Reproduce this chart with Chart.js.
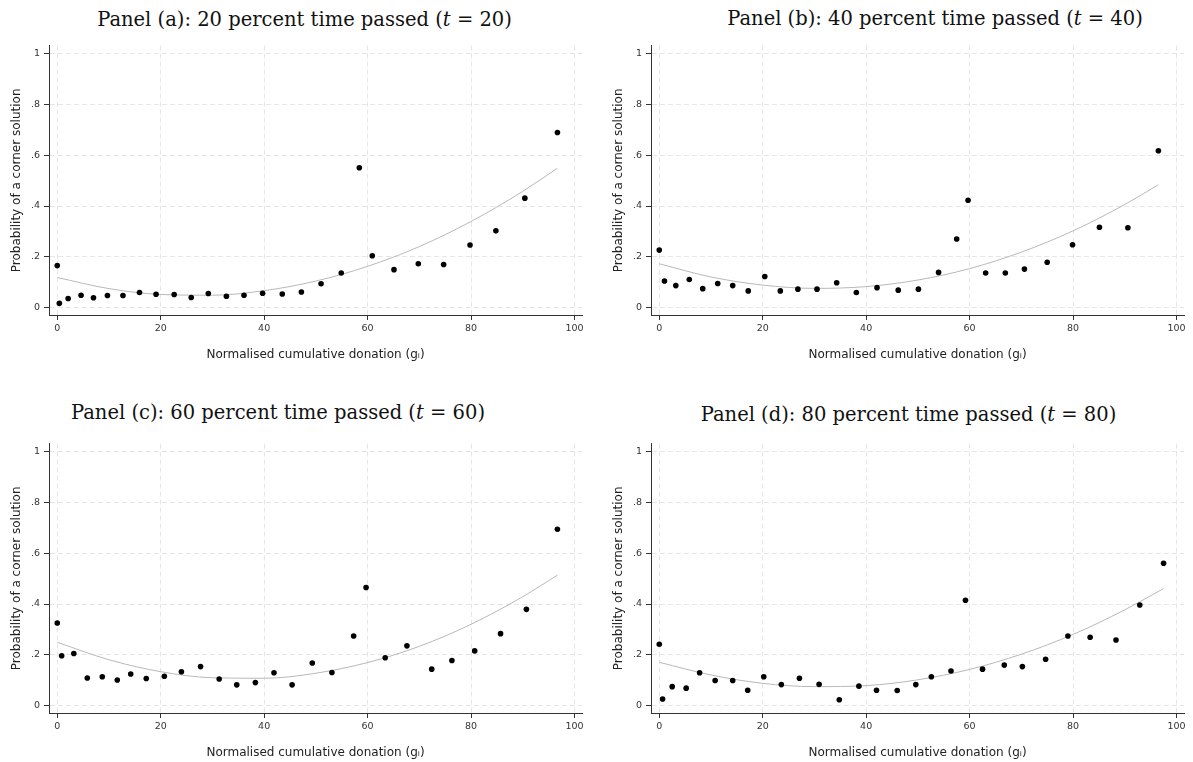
<!DOCTYPE html>
<html>
<head>
<meta charset="utf-8">
<script src="https://cdn.jsdelivr.net/npm/chart.js@4.4.1/dist/chart.umd.min.js"></script>
<style>
  html, body { margin: 0; padding: 0; background: #fff; overflow: hidden; }
  body { width: 1193px; height: 762px; position: relative; }
  canvas { position: absolute; }
  .ptitle {
    position: absolute;
    font-family: "DejaVu Serif", serif;
    font-size: 19.5px;
    line-height: 1;
    white-space: nowrap;
    color: #111;
    transform: translateX(-50%);
  }
</style>
</head>
<body>
<div class="ptitle" style="left:304.5px; top:9.5px">Panel (a): 20 percent time passed (<i>t</i> = 20)</div>
<div class="ptitle" style="left:935px; top:9px">Panel (b): 40 percent time passed (<i>t</i> = 40)</div>
<div class="ptitle" style="left:278px; top:402.5px">Panel (c): 60 percent time passed (<i>t</i> = 60)</div>
<div class="ptitle" style="left:908.5px; top:404.5px">Panel (d): 80 percent time passed (<i>t</i> = 80)</div>

<canvas id="chartA" width="596" height="334" style="left:0px; top:36px"></canvas>
<canvas id="chartB" width="591" height="334" style="left:602px; top:36px"></canvas>
<canvas id="chartC" width="596" height="334" style="left:0px; top:434px"></canvas>
<canvas id="chartD" width="591" height="334" style="left:602px; top:434px"></canvas>

<script>
// axis ticks
const xTickVals = [0, 20, 40, 60, 80, 100];
const yTickVals = [0, 0.2, 0.4, 0.6, 0.8, 1];
const yTickLabels = ['0', '.2', '.4', '.6', '.8', '1'];

// Panel (a): t = 20
const aX = [0, 0.4, 2.1, 4.6, 7.0, 9.7, 12.7, 15.9, 19.1, 22.6, 25.9, 29.2, 32.7, 36.1, 39.7, 43.5, 47.2, 51.0, 54.9, 58.4, 60.9, 65.1, 69.8, 74.7, 79.8, 84.8, 90.4, 96.7];
const aY = [0.165, 0.016, 0.035, 0.048, 0.038, 0.047, 0.047, 0.059, 0.052, 0.051, 0.039, 0.055, 0.044, 0.048, 0.056, 0.053, 0.061, 0.093, 0.136, 0.551, 0.204, 0.149, 0.172, 0.169, 0.246, 0.302, 0.431, 0.690];
const aFitX = [0, 10, 20, 30, 40, 50, 60, 70, 80, 90, 96.7];
const aFitY = [0.118, 0.074, 0.051, 0.048, 0.066, 0.104, 0.162, 0.240, 0.339, 0.458, 0.549];

// Panel (b): t = 40
const bX = [0, 1.0, 3.2, 5.8, 8.4, 11.3, 14.2, 17.2, 20.4, 23.4, 26.8, 30.5, 34.3, 38.1, 42.1, 46.2, 50.1, 54.0, 57.5, 59.7, 63.1, 66.9, 70.6, 75.0, 79.9, 85.1, 90.6, 96.5];
const bY = [0.226, 0.104, 0.086, 0.110, 0.074, 0.094, 0.086, 0.065, 0.122, 0.065, 0.072, 0.072, 0.097, 0.059, 0.078, 0.068, 0.072, 0.138, 0.270, 0.423, 0.136, 0.136, 0.151, 0.178, 0.247, 0.316, 0.314, 0.618];
const bFitX = [0, 10, 20, 30, 40, 50, 60, 70, 80, 90, 96.5];
const bFitY = [0.172, 0.120, 0.088, 0.075, 0.082, 0.108, 0.153, 0.218, 0.302, 0.406, 0.484];

// Panel (c): t = 60
const cX = [0, 0.85, 3.2, 5.8, 8.7, 11.6, 14.2, 17.2, 20.7, 24.0, 27.7, 31.3, 34.7, 38.3, 41.9, 45.4, 49.3, 53.1, 57.3, 59.7, 63.4, 67.6, 72.4, 76.3, 80.7, 85.7, 90.7, 96.7];
const cY = [0.325, 0.196, 0.205, 0.108, 0.113, 0.100, 0.124, 0.106, 0.115, 0.133, 0.153, 0.104, 0.081, 0.090, 0.129, 0.081, 0.167, 0.130, 0.274, 0.465, 0.188, 0.235, 0.143, 0.177, 0.215, 0.283, 0.379, 0.695];
const cFitX = [0, 10, 20, 30, 40, 50, 60, 70, 80, 90, 96.7];
const cFitY = [0.249, 0.180, 0.133, 0.109, 0.107, 0.127, 0.169, 0.233, 0.320, 0.429, 0.514];

// Panel (d): t = 80
const dX = [0, 0.64, 2.5, 5.2, 7.8, 10.8, 14.2, 17.1, 20.2, 23.6, 27.1, 30.9, 34.8, 38.6, 42.0, 46.0, 49.6, 52.6, 56.4, 59.2, 62.5, 66.7, 70.2, 74.7, 79.0, 83.3, 88.3, 92.9, 97.5];
const dY = [0.241, 0.025, 0.074, 0.068, 0.129, 0.098, 0.098, 0.060, 0.113, 0.082, 0.107, 0.083, 0.022, 0.076, 0.060, 0.059, 0.082, 0.113, 0.136, 0.415, 0.143, 0.159, 0.153, 0.182, 0.274, 0.269, 0.258, 0.396, 0.561];
const dFitX = [0, 10, 20, 30, 40, 50, 60, 70, 80, 90, 97.5];
const dFitY = [0.170, 0.120, 0.087, 0.074, 0.078, 0.101, 0.142, 0.202, 0.280, 0.377, 0.461];

const axisColor = '#333';
const gridColor = '#e6e6e6';

function toPoints(xs, ys) {
    return xs.map((x, i) => ({ x: x, y: ys[i] }));
}

function makePanel(canvasId, xs, ys, fitXs, fitYs, rightPad) {
    const ctx = document.getElementById(canvasId).getContext('2d');
    return new Chart(ctx, {
        type: 'scatter',
        data: {
            datasets: [
                {
                    label: 'Share',
                    data: toPoints(xs, ys),
                    pointRadius: 2.8,
                    pointBackgroundColor: '#000',
                    pointBorderWidth: 0,
                    showLine: false
                },
                {
                    label: 'Quadratic fit',
                    data: toPoints(fitXs, fitYs),
                    showLine: true,
                    borderColor: '#b8b8b8',
                    borderWidth: 1,
                    pointRadius: 0,
                    cubicInterpolationMode: 'monotone'
                }
            ]
        },
        options: {
            responsive: false,
            animation: false,
            layout: {
                padding: { top: 8, right: rightPad, bottom: 0, left: 0 }
            },
            plugins: {
                legend: { display: false },
                tooltip: { enabled: false }
            },
            scales: {
                x: {
                    type: 'linear',
                    min: -1.6,
                    max: 101.45,
                    afterBuildTicks: function(scale) {
                        scale.ticks = xTickVals.map(v => ({ value: v }));
                    },
                    afterFit: function(scale) {
                        scale.height = 55;
                    },
                    ticks: {
                        color: axisColor,
                        padding: 3,
                        maxRotation: 0,
                        font: { family: 'DejaVu Sans', size: 9.5 }
                    },
                    grid: {
                        color: gridColor,
                        tickColor: axisColor,
                        tickLength: 5,
                        tickWidth: 1
                    },
                    border: { display: true, color: axisColor, width: 1, dash: [5, 3] },
                    title: {
                        display: true,
                        text: 'Normalised cumulative donation (gᵢ)',
                        color: '#222',
                        font: { family: 'DejaVu Sans', size: 12, lineHeight: 1.2 },
                        padding: { top: 0, bottom: 7.8 }
                    }
                },
                y: {
                    type: 'linear',
                    min: -0.03,
                    max: 1.0325,
                    afterBuildTicks: function(scale) {
                        scale.ticks = yTickVals.map(v => ({ value: v }));
                    },
                    afterFit: function(scale) {
                        scale.width = 49;
                    },
                    ticks: {
                        color: axisColor,
                        padding: 4,
                        font: { family: 'DejaVu Sans', size: 9.5 },
                        callback: function(value, index) {
                            return yTickLabels[index];
                        }
                    },
                    grid: {
                        color: gridColor,
                        tickColor: axisColor,
                        tickLength: 5,
                        tickWidth: 1
                    },
                    border: { display: true, color: axisColor, width: 1, dash: [5, 3] },
                    title: {
                        display: true,
                        text: 'Probability of a corner solution',
                        color: '#222',
                        font: { family: 'DejaVu Sans', size: 12, lineHeight: 1.2 },
                        padding: { top: 9.3, bottom: 0 }
                    }
                }
            }
        }
    });
}

makePanel('chartA', aX, aY, aFitX, aFitY, 14);
makePanel('chartB', bX, bY, bFitX, bFitY, 9);
makePanel('chartC', cX, cY, cFitX, cFitY, 14);
makePanel('chartD', dX, dY, dFitX, dFitY, 9);
</script>
</body>
</html>
